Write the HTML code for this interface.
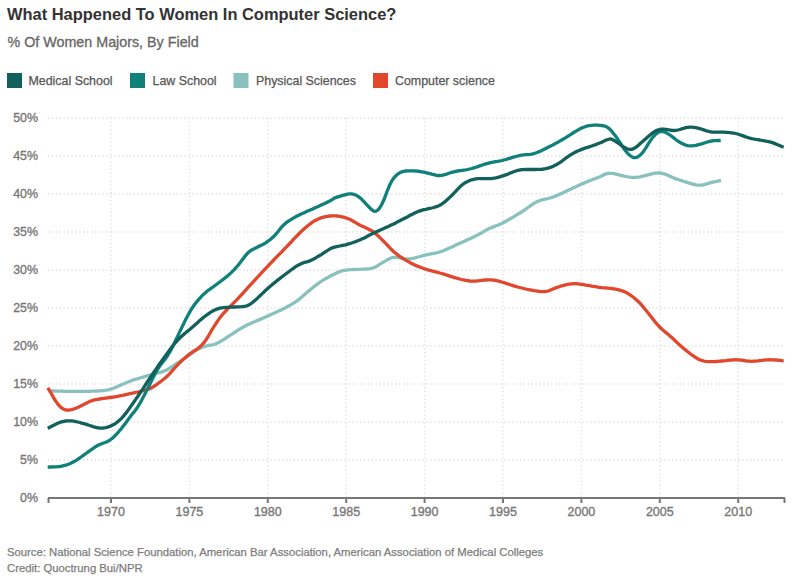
<!DOCTYPE html>
<html><head><meta charset="utf-8"><style>
html,body{margin:0;padding:0;background:#fff;width:800px;height:585px;overflow:hidden}
body{position:relative;font-family:"Liberation Sans",sans-serif}
#wrap{position:absolute;left:0;top:0;width:800px;height:585px}
.t{position:absolute;white-space:nowrap;left:7px}
#title{top:5px;font-size:16.45px;font-weight:bold;color:#333}
#sub{top:34px;left:7.5px;font-size:14.3px;color:#666;-webkit-text-stroke:0.3px #666}
#src{top:545.5px;font-size:11.3px;color:#7d7d7d;-webkit-text-stroke:0.25px #7d7d7d}
#cred{top:561.5px;font-size:11.3px;color:#7d7d7d;-webkit-text-stroke:0.25px #7d7d7d}
svg{position:absolute;left:0;top:0}
</style></head><body><div id="wrap">
<div class="t" id="title">What Happened To Women In Computer Science?</div>
<div class="t" id="sub">% Of Women Majors, By Field</div>
<svg width="800" height="585" viewBox="0 0 800 585">
<g font-family="Liberation Sans" font-size="12.4" fill="#555" stroke="#555" stroke-width="0.25">
<rect x="7" y="73" width="15" height="15" stroke="none" fill="#12605c"/><text x="28.5" y="85">Medical School</text>
<rect x="130" y="73" width="15" height="15" stroke="none" fill="#10807b"/><text x="152.5" y="85">Law School</text>
<rect x="233.5" y="73" width="15" height="15" stroke="none" fill="#88c1be"/><text x="256" y="85">Physical Sciences</text>
<rect x="373" y="73" width="15" height="15" stroke="none" fill="#e0472c"/><text x="395" y="85">Computer science</text>
</g>
<g stroke="#dedede" stroke-width="1.3" stroke-dasharray="1.3 2.6"><line x1="48" y1="460.0" x2="785" y2="460.0"/><line x1="48" y1="422.0" x2="785" y2="422.0"/><line x1="48" y1="384.0" x2="785" y2="384.0"/><line x1="48" y1="346.0" x2="785" y2="346.0"/><line x1="48" y1="308.0" x2="785" y2="308.0"/><line x1="48" y1="270.0" x2="785" y2="270.0"/><line x1="48" y1="232.0" x2="785" y2="232.0"/><line x1="48" y1="194.0" x2="785" y2="194.0"/><line x1="48" y1="156.0" x2="785" y2="156.0"/><line x1="48" y1="118.0" x2="785" y2="118.0"/><line x1="111.0" y1="118.0" x2="111.0" y2="498.0"/><line x1="189.4" y1="118.0" x2="189.4" y2="498.0"/><line x1="267.8" y1="118.0" x2="267.8" y2="498.0"/><line x1="346.2" y1="118.0" x2="346.2" y2="498.0"/><line x1="424.6" y1="118.0" x2="424.6" y2="498.0"/><line x1="503.0" y1="118.0" x2="503.0" y2="498.0"/><line x1="581.4" y1="118.0" x2="581.4" y2="498.0"/><line x1="659.8" y1="118.0" x2="659.8" y2="498.0"/><line x1="738.2" y1="118.0" x2="738.2" y2="498.0"/></g>
<g font-family="Liberation Sans" font-size="12.4" fill="#777" stroke="#777" stroke-width="0.35" text-anchor="end"><text x="38" y="501.8">0%</text><text x="38" y="463.8">5%</text><text x="38" y="425.8">10%</text><text x="38" y="387.8">15%</text><text x="38" y="349.8">20%</text><text x="38" y="311.8">25%</text><text x="38" y="273.8">30%</text><text x="38" y="235.8">35%</text><text x="38" y="197.8">40%</text><text x="38" y="159.8">45%</text><text x="38" y="121.8">50%</text></g>
<g font-family="Liberation Sans" font-size="12.5" fill="#777" stroke="#777" stroke-width="0.35" text-anchor="middle"><text x="111.0" y="516">1970</text><text x="189.4" y="516">1975</text><text x="267.8" y="516">1980</text><text x="346.2" y="516">1985</text><text x="424.6" y="516">1990</text><text x="503.0" y="516">1995</text><text x="581.4" y="516">2000</text><text x="659.8" y="516">2005</text><text x="738.2" y="516">2010</text></g>
<g stroke="#777" stroke-width="2" fill="none"><line x1="48" y1="498" x2="785" y2="498"/><line x1="111.0" y1="498" x2="111.0" y2="503"/><line x1="189.4" y1="498" x2="189.4" y2="503"/><line x1="267.8" y1="498" x2="267.8" y2="503"/><line x1="346.2" y1="498" x2="346.2" y2="503"/><line x1="424.6" y1="498" x2="424.6" y2="503"/><line x1="503.0" y1="498" x2="503.0" y2="503"/><line x1="581.4" y1="498" x2="581.4" y2="503"/><line x1="659.8" y1="498" x2="659.8" y2="503"/><line x1="738.2" y1="498" x2="738.2" y2="503"/><line x1="48.5" y1="498" x2="48.5" y2="503"/><line x1="784.5" y1="498" x2="784.5" y2="503"/></g>
<g fill="none" stroke-width="3.3" stroke-linecap="butt" stroke-linejoin="round">
<path stroke="#88c1be" d="M48.0,390.9 L50.0,390.9 L52.0,391.0 L54.0,391.0 L56.0,391.1 L58.0,391.1 L60.0,391.2 L62.0,391.2 L64.0,391.3 L66.0,391.3 L68.0,391.3 L70.0,391.4 L72.0,391.4 L74.0,391.4 L76.0,391.4 L78.0,391.4 L80.0,391.4 L82.0,391.4 L84.0,391.4 L86.0,391.3 L88.0,391.3 L90.0,391.3 L92.0,391.2 L94.0,391.2 L96.0,391.1 L98.0,391.0 L100.0,390.9 L102.0,390.7 L104.0,390.5 L106.0,390.2 L108.0,389.8 L110.0,389.3 L112.0,388.7 L114.0,388.0 L116.0,387.2 L118.0,386.3 L120.0,385.4 L122.0,384.5 L124.0,383.7 L126.0,382.8 L128.0,382.0 L130.0,381.2 L132.0,380.4 L134.0,379.7 L136.0,379.1 L138.0,378.6 L140.0,378.0 L142.0,377.4 L144.0,376.8 L146.0,376.2 L148.0,375.6 L150.0,375.0 L152.0,374.5 L154.0,374.0 L156.0,373.5 L158.0,373.0 L160.0,372.4 L162.0,371.8 L164.0,371.1 L166.0,370.3 L168.0,369.2 L170.0,368.0 L172.0,366.7 L174.0,365.3 L176.0,364.0 L178.0,362.7 L180.0,361.5 L182.0,360.3 L184.0,358.9 L186.0,357.6 L188.0,356.1 L190.0,354.6 L192.0,353.1 L194.0,351.7 L196.0,350.4 L198.0,349.2 L200.0,348.2 L202.0,347.3 L204.0,346.6 L206.0,346.0 L208.0,345.5 L210.0,345.2 L212.0,344.9 L214.0,344.5 L216.0,343.8 L218.0,342.8 L220.0,341.7 L222.0,340.5 L224.0,339.3 L226.0,338.1 L228.0,336.7 L230.0,335.4 L232.0,334.1 L234.0,332.8 L236.0,331.5 L238.0,330.2 L240.0,329.0 L242.0,327.8 L244.0,326.7 L246.0,325.6 L248.0,324.6 L250.0,323.7 L252.0,322.8 L254.0,322.0 L256.0,321.1 L258.0,320.3 L260.0,319.4 L262.0,318.6 L264.0,317.7 L266.0,316.8 L268.0,315.9 L270.0,315.0 L272.0,314.1 L274.0,313.2 L276.0,312.3 L278.0,311.3 L280.0,310.4 L282.0,309.4 L284.0,308.4 L286.0,307.4 L288.0,306.3 L290.0,305.3 L292.0,304.1 L294.0,302.9 L296.0,301.6 L298.0,300.1 L300.0,298.5 L302.0,296.8 L304.0,295.1 L306.0,293.3 L308.0,291.6 L310.0,289.9 L312.0,288.3 L314.0,286.6 L316.0,285.1 L318.0,283.6 L320.0,282.2 L322.0,280.9 L324.0,279.7 L326.0,278.5 L328.0,277.4 L330.0,276.3 L332.0,275.2 L334.0,274.3 L336.0,273.3 L338.0,272.3 L340.0,271.5 L342.0,270.9 L344.0,270.4 L346.0,270.1 L348.0,269.8 L350.0,269.7 L352.0,269.6 L354.0,269.5 L356.0,269.4 L358.0,269.3 L360.0,269.3 L362.0,269.2 L364.0,269.1 L366.0,269.0 L368.0,268.8 L370.0,268.6 L372.0,268.2 L374.0,267.6 L376.0,266.7 L378.0,265.5 L380.0,264.1 L382.0,262.9 L384.0,261.8 L386.0,260.6 L388.0,259.4 L390.0,258.4 L392.0,257.7 L394.0,257.3 L396.0,257.3 L398.0,257.5 L400.0,257.9 L402.0,258.3 L404.0,258.7 L406.0,258.9 L408.0,259.0 L410.0,258.8 L412.0,258.5 L414.0,258.1 L416.0,257.6 L418.0,257.0 L420.0,256.5 L422.0,255.9 L424.0,255.4 L426.0,254.9 L428.0,254.5 L430.0,254.1 L432.0,253.7 L434.0,253.4 L436.0,252.9 L438.0,252.5 L440.0,251.9 L442.0,251.2 L444.0,250.5 L446.0,249.6 L448.0,248.7 L450.0,247.8 L452.0,246.9 L454.0,245.9 L456.0,245.0 L458.0,244.1 L460.0,243.2 L462.0,242.3 L464.0,241.4 L466.0,240.5 L468.0,239.6 L470.0,238.7 L472.0,237.7 L474.0,236.8 L476.0,235.8 L478.0,234.8 L480.0,233.7 L482.0,232.6 L484.0,231.4 L486.0,230.2 L488.0,229.1 L490.0,228.2 L492.0,227.4 L494.0,226.6 L496.0,225.8 L498.0,225.1 L500.0,224.3 L502.0,223.4 L504.0,222.3 L506.0,221.2 L508.0,220.1 L510.0,218.9 L512.0,217.8 L514.0,216.6 L516.0,215.4 L518.0,214.2 L520.0,213.0 L522.0,211.7 L524.0,210.3 L526.0,208.9 L528.0,207.5 L530.0,206.1 L532.0,204.7 L534.0,203.4 L536.0,202.3 L538.0,201.3 L540.0,200.5 L542.0,199.8 L544.0,199.4 L546.0,198.9 L548.0,198.5 L550.0,198.0 L552.0,197.4 L554.0,196.7 L556.0,195.9 L558.0,195.0 L560.0,194.1 L562.0,193.2 L564.0,192.2 L566.0,191.3 L568.0,190.3 L570.0,189.4 L572.0,188.5 L574.0,187.6 L576.0,186.7 L578.0,185.8 L580.0,184.8 L582.0,183.9 L584.0,183.1 L586.0,182.2 L588.0,181.4 L590.0,180.5 L592.0,179.8 L594.0,179.0 L596.0,178.3 L598.0,177.5 L600.0,176.7 L602.0,175.8 L604.0,174.7 L606.0,173.9 L608.0,173.4 L610.0,173.3 L612.0,173.4 L614.0,173.7 L616.0,174.1 L618.0,174.6 L620.0,175.1 L622.0,175.6 L624.0,176.1 L626.0,176.5 L628.0,176.9 L630.0,177.2 L632.0,177.4 L634.0,177.5 L636.0,177.4 L638.0,177.1 L640.0,176.8 L642.0,176.4 L644.0,175.9 L646.0,175.3 L648.0,174.8 L650.0,174.3 L652.0,173.8 L654.0,173.4 L656.0,173.1 L658.0,173.0 L660.0,173.0 L662.0,173.3 L664.0,173.8 L666.0,174.5 L668.0,175.3 L670.0,176.3 L672.0,177.2 L674.0,178.1 L676.0,178.9 L678.0,179.5 L680.0,180.2 L682.0,180.8 L684.0,181.5 L686.0,182.1 L688.0,182.7 L690.0,183.3 L692.0,183.9 L694.0,184.4 L696.0,184.8 L698.0,185.1 L700.0,185.2 L702.0,185.1 L704.0,184.7 L706.0,184.1 L708.0,183.4 L710.0,182.8 L712.0,182.3 L714.0,181.9 L716.0,181.5 L718.0,181.0 L720.0,180.7 L721.0,180.5"/>
<path stroke="#e0472c" d="M47.7,387.9 L49.7,390.7 L51.7,394.3 L53.7,397.9 L55.7,401.1 L57.7,403.9 L59.7,406.2 L61.7,408.0 L63.7,409.2 L65.7,410.0 L67.7,410.2 L69.7,410.0 L71.7,409.6 L73.7,409.0 L75.7,408.3 L77.7,407.5 L79.7,406.6 L81.7,405.6 L83.7,404.5 L85.7,403.4 L87.7,402.4 L89.7,401.5 L91.7,400.7 L93.7,400.1 L95.7,399.7 L97.7,399.3 L99.7,399.0 L101.7,398.7 L103.7,398.4 L105.7,398.1 L107.7,397.8 L109.7,397.5 L111.7,397.3 L113.7,397.0 L115.7,396.7 L117.7,396.3 L119.7,395.9 L121.7,395.5 L123.7,395.1 L125.7,394.6 L127.7,394.2 L129.7,393.7 L131.7,393.3 L133.7,392.9 L135.7,392.4 L137.7,392.0 L139.7,391.5 L141.7,391.0 L143.7,390.6 L145.7,390.1 L147.7,389.5 L149.7,388.7 L151.7,387.7 L153.7,386.5 L155.7,385.2 L157.7,383.7 L159.7,382.2 L161.7,380.7 L163.7,379.2 L165.7,377.5 L167.7,375.7 L169.7,373.6 L171.7,371.4 L173.7,369.1 L175.7,366.9 L177.7,364.8 L179.7,362.7 L181.7,360.8 L183.7,358.9 L185.7,357.2 L187.7,355.5 L189.7,353.9 L191.7,352.5 L193.7,351.2 L195.7,350.0 L197.7,348.6 L199.7,347.0 L201.7,345.1 L203.7,342.9 L205.7,340.3 L207.7,337.2 L209.7,333.7 L211.7,330.2 L213.7,327.0 L215.7,323.9 L217.7,320.9 L219.7,318.1 L221.7,315.5 L223.7,313.1 L225.7,311.0 L227.7,308.9 L229.7,306.8 L231.7,304.8 L233.7,302.8 L235.7,300.8 L237.7,298.8 L239.7,296.7 L241.7,294.5 L243.7,292.3 L245.7,290.1 L247.7,287.9 L249.7,285.7 L251.7,283.5 L253.7,281.3 L255.7,279.2 L257.7,277.0 L259.7,274.8 L261.7,272.7 L263.7,270.5 L265.7,268.4 L267.7,266.3 L269.7,264.2 L271.7,262.1 L273.7,260.0 L275.7,257.9 L277.7,255.9 L279.7,253.8 L281.7,251.8 L283.7,249.7 L285.7,247.7 L287.7,245.6 L289.7,243.5 L291.7,241.4 L293.7,239.2 L295.7,237.1 L297.7,235.0 L299.7,233.0 L301.7,231.1 L303.7,229.2 L305.7,227.4 L307.7,225.7 L309.7,224.2 L311.7,222.7 L313.7,221.4 L315.7,220.3 L317.7,219.2 L319.7,218.4 L321.7,217.6 L323.7,217.1 L325.7,216.6 L327.7,216.3 L329.7,216.0 L331.7,215.8 L333.7,215.8 L335.7,215.8 L337.7,216.0 L339.7,216.4 L341.7,216.8 L343.7,217.2 L345.7,217.8 L347.7,218.5 L349.7,219.3 L351.7,220.3 L353.7,221.5 L355.7,222.7 L357.7,223.9 L359.7,225.0 L361.7,225.9 L363.7,226.8 L365.7,227.7 L367.7,228.7 L369.7,229.7 L371.7,230.8 L373.7,232.2 L375.7,233.7 L377.7,235.5 L379.7,237.4 L381.7,239.4 L383.7,241.4 L385.7,243.4 L387.7,245.5 L389.7,247.7 L391.7,249.8 L393.7,251.7 L395.7,253.3 L397.7,254.9 L399.7,256.3 L401.7,257.6 L403.7,258.9 L405.7,260.1 L407.7,261.2 L409.7,262.4 L411.7,263.4 L413.7,264.4 L415.7,265.4 L417.7,266.2 L419.7,267.0 L421.7,267.8 L423.7,268.5 L425.7,269.1 L427.7,269.8 L429.7,270.3 L431.7,270.9 L433.7,271.4 L435.7,271.9 L437.7,272.4 L439.7,273.0 L441.7,273.5 L443.7,274.1 L445.7,274.7 L447.7,275.4 L449.7,276.1 L451.7,276.7 L453.7,277.3 L455.7,277.9 L457.7,278.4 L459.7,279.0 L461.7,279.5 L463.7,279.9 L465.7,280.4 L467.7,280.7 L469.7,281.0 L471.7,281.2 L473.7,281.2 L475.7,281.1 L477.7,280.9 L479.7,280.7 L481.7,280.4 L483.7,280.2 L485.7,280.0 L487.7,279.9 L489.7,279.8 L491.7,279.9 L493.7,280.2 L495.7,280.5 L497.7,280.9 L499.7,281.4 L501.7,282.0 L503.7,282.6 L505.7,283.2 L507.7,283.9 L509.7,284.5 L511.7,285.2 L513.7,285.8 L515.7,286.4 L517.7,287.0 L519.7,287.5 L521.7,288.0 L523.7,288.5 L525.7,289.0 L527.7,289.4 L529.7,289.8 L531.7,290.2 L533.7,290.6 L535.7,290.9 L537.7,291.2 L539.7,291.5 L541.7,291.6 L543.7,291.7 L545.7,291.5 L547.7,291.1 L549.7,290.5 L551.7,289.6 L553.7,288.7 L555.7,287.9 L557.7,287.2 L559.7,286.5 L561.7,285.9 L563.7,285.4 L565.7,284.8 L567.7,284.4 L569.7,284.0 L571.7,283.8 L573.7,283.7 L575.7,283.7 L577.7,283.9 L579.7,284.1 L581.7,284.4 L583.7,284.7 L585.7,285.1 L587.7,285.4 L589.7,285.7 L591.7,286.1 L593.7,286.4 L595.7,286.7 L597.7,287.1 L599.7,287.3 L601.7,287.6 L603.7,287.8 L605.7,287.9 L607.7,288.1 L609.7,288.3 L611.7,288.5 L613.7,288.8 L615.7,289.2 L617.7,289.6 L619.7,290.1 L621.7,290.7 L623.7,291.4 L625.7,292.3 L627.7,293.4 L629.7,294.6 L631.7,296.0 L633.7,297.5 L635.7,299.2 L637.7,301.0 L639.7,302.9 L641.7,305.2 L643.7,307.5 L645.7,310.0 L647.7,312.5 L649.7,315.0 L651.7,317.5 L653.7,320.1 L655.7,322.6 L657.7,324.9 L659.7,327.0 L661.7,329.0 L663.7,330.7 L665.7,332.4 L667.7,334.0 L669.7,335.7 L671.7,337.4 L673.7,339.3 L675.7,341.2 L677.7,343.1 L679.7,345.0 L681.7,346.8 L683.7,348.5 L685.7,350.1 L687.7,351.7 L689.7,353.3 L691.7,354.8 L693.7,356.2 L695.7,357.5 L697.7,358.7 L699.7,359.7 L701.7,360.4 L703.7,361.0 L705.7,361.4 L707.7,361.6 L709.7,361.7 L711.7,361.7 L713.7,361.7 L715.7,361.5 L717.7,361.4 L719.7,361.2 L721.7,361.0 L723.7,360.8 L725.7,360.7 L727.7,360.4 L729.7,360.2 L731.7,360.0 L733.7,359.8 L735.7,359.7 L737.7,359.8 L739.7,360.0 L741.7,360.2 L743.7,360.5 L745.7,360.8 L747.7,361.1 L749.7,361.2 L751.7,361.3 L753.7,361.2 L755.7,361.1 L757.7,360.9 L759.7,360.6 L761.7,360.4 L763.7,360.1 L765.7,359.9 L767.7,359.8 L769.7,359.7 L771.7,359.8 L773.7,359.9 L775.7,360.0 L777.7,360.2 L779.7,360.4 L781.7,360.7 L783.7,360.9"/>
<path stroke="#10807b" d="M47.7,467.1 L49.7,467.0 L51.7,467.0 L53.7,466.9 L55.7,466.8 L57.7,466.7 L59.7,466.5 L61.7,466.2 L63.7,465.7 L65.7,465.2 L67.7,464.5 L69.7,463.7 L71.7,462.8 L73.7,461.7 L75.7,460.6 L77.7,459.3 L79.7,458.0 L81.7,456.5 L83.7,455.1 L85.7,453.7 L87.7,452.2 L89.7,450.8 L91.7,449.4 L93.7,448.0 L95.7,446.7 L97.7,445.5 L99.7,444.5 L101.7,443.7 L103.7,443.0 L105.7,442.3 L107.7,441.4 L109.7,440.3 L111.7,438.8 L113.7,437.0 L115.7,435.0 L117.7,432.8 L119.7,430.5 L121.7,428.1 L123.7,425.5 L125.7,422.9 L127.7,420.2 L129.7,417.4 L131.7,414.8 L133.7,412.4 L135.7,409.8 L137.7,407.0 L139.7,403.7 L141.7,400.1 L143.7,396.3 L145.7,392.4 L147.7,388.4 L149.7,384.4 L151.7,380.4 L153.7,376.5 L155.7,372.6 L157.7,369.1 L159.7,366.0 L161.7,363.4 L163.7,361.0 L165.7,358.4 L167.7,355.5 L169.7,352.2 L171.7,348.5 L173.7,344.5 L175.7,340.3 L177.7,336.1 L179.7,331.9 L181.7,327.8 L183.7,323.6 L185.7,319.6 L187.7,315.8 L189.7,312.1 L191.7,308.7 L193.7,305.8 L195.7,303.1 L197.7,300.6 L199.7,298.3 L201.7,296.2 L203.7,294.2 L205.7,292.4 L207.7,290.7 L209.7,289.3 L211.7,287.9 L213.7,286.5 L215.7,285.0 L217.7,283.5 L219.7,282.0 L221.7,280.5 L223.7,279.0 L225.7,277.4 L227.7,275.7 L229.7,274.0 L231.7,272.1 L233.7,270.1 L235.7,268.0 L237.7,265.7 L239.7,263.2 L241.7,260.6 L243.7,257.9 L245.7,255.4 L247.7,253.1 L249.7,251.3 L251.7,250.0 L253.7,249.0 L255.7,248.1 L257.7,247.1 L259.7,246.1 L261.7,245.1 L263.7,244.0 L265.7,242.8 L267.7,241.4 L269.7,240.0 L271.7,238.3 L273.7,236.5 L275.7,234.4 L277.7,232.0 L279.7,229.4 L281.7,227.0 L283.7,224.9 L285.7,223.1 L287.7,221.6 L289.7,220.3 L291.7,219.1 L293.7,217.9 L295.7,216.8 L297.7,215.8 L299.7,214.8 L301.7,213.8 L303.7,212.9 L305.7,212.0 L307.7,211.1 L309.7,210.2 L311.7,209.4 L313.7,208.5 L315.7,207.6 L317.7,206.7 L319.7,205.8 L321.7,204.8 L323.7,203.9 L325.7,203.0 L327.7,202.0 L329.7,201.0 L331.7,199.8 L333.7,198.6 L335.7,197.6 L337.7,196.9 L339.7,196.3 L341.7,195.7 L343.7,195.1 L345.7,194.6 L347.7,194.2 L349.7,193.9 L351.7,193.9 L353.7,194.3 L355.7,195.0 L357.7,196.1 L359.7,197.6 L361.7,199.3 L363.7,201.3 L365.7,203.5 L367.7,205.7 L369.7,207.8 L371.7,209.7 L373.7,211.1 L375.7,211.3 L377.7,210.1 L379.7,207.8 L381.7,204.5 L383.7,200.3 L385.7,195.2 L387.7,189.8 L389.7,185.0 L391.7,181.2 L393.7,178.2 L395.7,175.9 L397.7,174.1 L399.7,172.8 L401.7,171.9 L403.7,171.3 L405.7,171.0 L407.7,170.9 L409.7,170.8 L411.7,170.8 L413.7,170.8 L415.7,171.0 L417.7,171.2 L419.7,171.5 L421.7,171.8 L423.7,172.1 L425.7,172.6 L427.7,173.1 L429.7,173.6 L431.7,174.2 L433.7,174.7 L435.7,175.2 L437.7,175.5 L439.7,175.5 L441.7,175.3 L443.7,174.9 L445.7,174.4 L447.7,173.7 L449.7,173.0 L451.7,172.3 L453.7,171.8 L455.7,171.3 L457.7,171.0 L459.7,170.7 L461.7,170.5 L463.7,170.2 L465.7,169.9 L467.7,169.5 L469.7,169.0 L471.7,168.5 L473.7,167.9 L475.7,167.3 L477.7,166.6 L479.7,165.9 L481.7,165.2 L483.7,164.5 L485.7,163.9 L487.7,163.3 L489.7,162.8 L491.7,162.4 L493.7,162.0 L495.7,161.7 L497.7,161.4 L499.7,161.0 L501.7,160.6 L503.7,160.0 L505.7,159.5 L507.7,158.9 L509.7,158.3 L511.7,157.7 L513.7,157.1 L515.7,156.5 L517.7,156.0 L519.7,155.5 L521.7,155.1 L523.7,154.9 L525.7,154.7 L527.7,154.6 L529.7,154.4 L531.7,154.1 L533.7,153.6 L535.7,153.0 L537.7,152.2 L539.7,151.4 L541.7,150.5 L543.7,149.6 L545.7,148.6 L547.7,147.6 L549.7,146.6 L551.7,145.6 L553.7,144.5 L555.7,143.4 L557.7,142.3 L559.7,141.1 L561.7,140.0 L563.7,138.8 L565.7,137.6 L567.7,136.3 L569.7,135.1 L571.7,133.8 L573.7,132.5 L575.7,131.3 L577.7,130.1 L579.7,129.0 L581.7,128.1 L583.7,127.2 L585.7,126.5 L587.7,125.9 L589.7,125.6 L591.7,125.3 L593.7,125.2 L595.7,125.2 L597.7,125.2 L599.7,125.3 L601.7,125.5 L603.7,125.8 L605.7,126.4 L607.7,127.5 L609.7,129.1 L611.7,131.2 L613.7,133.7 L615.7,136.3 L617.7,139.1 L619.7,142.2 L621.7,145.3 L623.7,148.4 L625.7,151.0 L627.7,153.3 L629.7,155.3 L631.7,156.8 L633.7,157.6 L635.7,157.6 L637.7,156.9 L639.7,155.5 L641.7,153.6 L643.7,151.2 L645.7,148.2 L647.7,144.8 L649.7,141.6 L651.7,138.7 L653.7,136.3 L655.7,134.2 L657.7,132.6 L659.7,131.6 L661.7,131.4 L663.7,131.7 L665.7,132.5 L667.7,133.6 L669.7,134.8 L671.7,136.3 L673.7,137.9 L675.7,139.5 L677.7,141.0 L679.7,142.2 L681.7,143.3 L683.7,144.3 L685.7,145.1 L687.7,145.6 L689.7,145.9 L691.7,145.9 L693.7,145.6 L695.7,145.3 L697.7,144.8 L699.7,144.3 L701.7,143.8 L703.7,143.2 L705.7,142.5 L707.7,141.9 L709.7,141.3 L711.7,141.0 L713.7,140.7 L715.7,140.6 L717.7,140.5 L719.7,140.5 L720.7,140.4"/>
<path stroke="#12605c" d="M47.7,428.2 L49.7,427.4 L51.7,426.3 L53.7,425.2 L55.7,424.2 L57.7,423.3 L59.7,422.4 L61.7,421.8 L63.7,421.3 L65.7,421.0 L67.7,420.8 L69.7,420.8 L71.7,420.9 L73.7,421.2 L75.7,421.6 L77.7,422.0 L79.7,422.5 L81.7,423.1 L83.7,423.6 L85.7,424.2 L87.7,424.8 L89.7,425.5 L91.7,426.1 L93.7,426.8 L95.7,427.3 L97.7,427.8 L99.7,428.0 L101.7,428.1 L103.7,428.0 L105.7,427.6 L107.7,427.1 L109.7,426.4 L111.7,425.6 L113.7,424.6 L115.7,423.3 L117.7,421.8 L119.7,420.1 L121.7,418.1 L123.7,415.9 L125.7,413.4 L127.7,410.7 L129.7,407.9 L131.7,405.1 L133.7,402.2 L135.7,399.4 L137.7,396.5 L139.7,393.5 L141.7,390.6 L143.7,387.6 L145.7,384.5 L147.7,381.5 L149.7,378.5 L151.7,375.5 L153.7,372.5 L155.7,369.6 L157.7,366.6 L159.7,363.7 L161.7,360.9 L163.7,358.1 L165.7,355.4 L167.7,352.6 L169.7,349.9 L171.7,347.3 L173.7,344.7 L175.7,342.3 L177.7,340.1 L179.7,338.0 L181.7,336.2 L183.7,334.4 L185.7,332.8 L187.7,331.1 L189.7,329.5 L191.7,327.7 L193.7,326.0 L195.7,324.2 L197.7,322.4 L199.7,320.6 L201.7,318.9 L203.7,317.2 L205.7,315.7 L207.7,314.3 L209.7,312.9 L211.7,311.7 L213.7,310.5 L215.7,309.6 L217.7,308.8 L219.7,308.2 L221.7,307.8 L223.7,307.6 L225.7,307.4 L227.7,307.3 L229.7,307.2 L231.7,307.1 L233.7,307.0 L235.7,307.0 L237.7,306.9 L239.7,306.8 L241.7,306.7 L243.7,306.5 L245.7,306.1 L247.7,305.5 L249.7,304.5 L251.7,303.1 L253.7,301.4 L255.7,299.7 L257.7,297.9 L259.7,296.0 L261.7,294.1 L263.7,292.2 L265.7,290.3 L267.7,288.5 L269.7,286.7 L271.7,285.0 L273.7,283.4 L275.7,281.7 L277.7,280.1 L279.7,278.6 L281.7,277.0 L283.7,275.5 L285.7,274.0 L287.7,272.5 L289.7,271.0 L291.7,269.5 L293.7,268.1 L295.7,266.7 L297.7,265.5 L299.7,264.4 L301.7,263.4 L303.7,262.7 L305.7,262.1 L307.7,261.6 L309.7,260.9 L311.7,260.0 L313.7,259.0 L315.7,257.9 L317.7,256.7 L319.7,255.5 L321.7,254.3 L323.7,252.9 L325.7,251.6 L327.7,250.3 L329.7,249.1 L331.7,248.1 L333.7,247.3 L335.7,246.8 L337.7,246.4 L339.7,246.0 L341.7,245.6 L343.7,245.2 L345.7,244.8 L347.7,244.2 L349.7,243.6 L351.7,243.0 L353.7,242.3 L355.7,241.6 L357.7,240.8 L359.7,240.0 L361.7,239.1 L363.7,238.2 L365.7,237.2 L367.7,236.1 L369.7,235.1 L371.7,234.1 L373.7,233.1 L375.7,232.1 L377.7,231.2 L379.7,230.3 L381.7,229.4 L383.7,228.5 L385.7,227.6 L387.7,226.7 L389.7,225.8 L391.7,224.8 L393.7,223.9 L395.7,222.9 L397.7,221.8 L399.7,220.8 L401.7,219.7 L403.7,218.7 L405.7,217.7 L407.7,216.7 L409.7,215.6 L411.7,214.6 L413.7,213.5 L415.7,212.6 L417.7,211.7 L419.7,210.9 L421.7,210.3 L423.7,209.7 L425.7,209.3 L427.7,208.8 L429.7,208.4 L431.7,208.0 L433.7,207.5 L435.7,206.9 L437.7,206.2 L439.7,205.3 L441.7,204.1 L443.7,202.7 L445.7,201.1 L447.7,199.3 L449.7,197.4 L451.7,195.5 L453.7,193.5 L455.7,191.3 L457.7,189.1 L459.7,187.1 L461.7,185.3 L463.7,183.7 L465.7,182.5 L467.7,181.4 L469.7,180.5 L471.7,179.8 L473.7,179.3 L475.7,178.9 L477.7,178.7 L479.7,178.6 L481.7,178.6 L483.7,178.6 L485.7,178.7 L487.7,178.7 L489.7,178.6 L491.7,178.5 L493.7,178.2 L495.7,177.8 L497.7,177.3 L499.7,176.8 L501.7,176.2 L503.7,175.6 L505.7,174.9 L507.7,174.2 L509.7,173.3 L511.7,172.5 L513.7,171.7 L515.7,171.0 L517.7,170.4 L519.7,170.0 L521.7,169.7 L523.7,169.6 L525.7,169.5 L527.7,169.5 L529.7,169.4 L531.7,169.5 L533.7,169.5 L535.7,169.5 L537.7,169.4 L539.7,169.4 L541.7,169.3 L543.7,169.0 L545.7,168.7 L547.7,168.2 L549.7,167.6 L551.7,166.9 L553.7,166.0 L555.7,165.0 L557.7,163.9 L559.7,162.7 L561.7,161.3 L563.7,159.8 L565.7,158.2 L567.7,156.8 L569.7,155.4 L571.7,154.2 L573.7,153.1 L575.7,152.1 L577.7,151.1 L579.7,150.2 L581.7,149.4 L583.7,148.6 L585.7,147.9 L587.7,147.3 L589.7,146.7 L591.7,146.0 L593.7,145.3 L595.7,144.6 L597.7,143.8 L599.7,143.0 L601.7,142.2 L603.7,141.2 L605.7,140.3 L607.7,139.5 L609.7,139.0 L611.7,139.2 L613.7,140.2 L615.7,141.5 L617.7,142.9 L619.7,144.2 L621.7,145.6 L623.7,146.9 L625.7,148.1 L627.7,149.0 L629.7,149.5 L631.7,149.4 L633.7,148.6 L635.7,147.4 L637.7,145.9 L639.7,144.1 L641.7,142.3 L643.7,140.5 L645.7,138.8 L647.7,137.0 L649.7,135.2 L651.7,133.6 L653.7,132.1 L655.7,130.9 L657.7,130.1 L659.7,129.5 L661.7,129.2 L663.7,129.2 L665.7,129.3 L667.7,129.6 L669.7,130.0 L671.7,130.3 L673.7,130.5 L675.7,130.4 L677.7,130.0 L679.7,129.5 L681.7,128.9 L683.7,128.3 L685.7,127.7 L687.7,127.3 L689.7,127.1 L691.7,127.2 L693.7,127.4 L695.7,127.7 L697.7,128.2 L699.7,128.7 L701.7,129.2 L703.7,129.9 L705.7,130.6 L707.7,131.2 L709.7,131.7 L711.7,132.0 L713.7,132.1 L715.7,132.2 L717.7,132.1 L719.7,132.1 L721.7,132.1 L723.7,132.2 L725.7,132.3 L727.7,132.4 L729.7,132.6 L731.7,132.8 L733.7,133.1 L735.7,133.5 L737.7,134.0 L739.7,134.7 L741.7,135.4 L743.7,136.1 L745.7,136.9 L747.7,137.5 L749.7,138.1 L751.7,138.6 L753.7,139.0 L755.7,139.4 L757.7,139.7 L759.7,140.0 L761.7,140.4 L763.7,140.7 L765.7,141.1 L767.7,141.4 L769.7,141.9 L771.7,142.4 L773.7,143.1 L775.7,143.9 L777.7,144.8 L779.7,145.6 L781.7,146.5 L783.7,147.2"/>
</g>
</svg>
<div class="t" id="src">Source: National Science Foundation, American Bar Association, American Association of Medical Colleges</div>
<div class="t" id="cred">Credit: Quoctrung Bui/NPR</div>
</div></body></html>
